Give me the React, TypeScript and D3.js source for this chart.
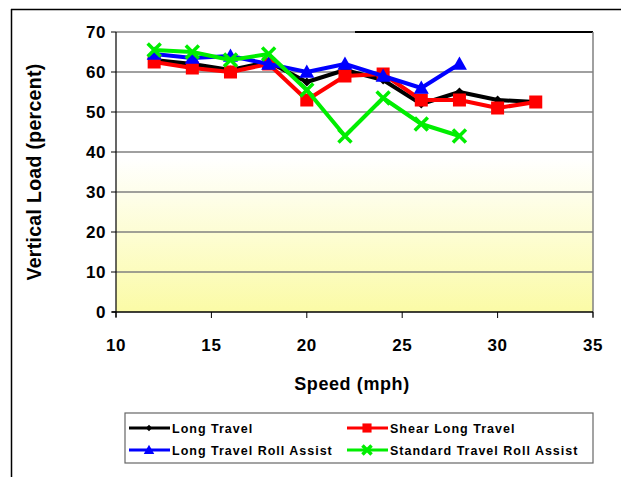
import React from "react";
import * as d3 from "d3";

const speeds = [12, 14, 16, 18, 20, 22, 24, 26, 28, 30, 32];
const longTravel = [63, 62, 60.5, 62.5, 57.5, 60.5, 58, 52, 55, 53, 52.5];
const shearLongTravel = [62.5, 61, 60, 62, 53, 59, 59.5, 53, 53, 51, 52.5];
const rollAssistSpeeds = [12, 14, 16, 18, 20, 22, 24, 26, 28];
const longTravelRollAssist = [64.5, 63.5, 64, 62, 60, 62, 59, 56, 62];
const standardTravelRollAssist = [65.5, 65, 63, 64.5, 55.5, 44, 53.5, 47, 44];
const xTicks = [10, 15, 20, 25, 30, 35];
const yTicks = [0, 10, 20, 30, 40, 50, 60, 70];

type Series = { name: string; color: string; marker: string; xs: number[]; ys: number[] };
const series: Series[] = [
  { name: "Long Travel", color: "#000000", marker: "diamond", xs: speeds, ys: longTravel },
  { name: "Shear Long Travel", color: "#ff0000", marker: "square", xs: speeds, ys: shearLongTravel },
  { name: "Long Travel Roll Assist", color: "#0000ff", marker: "triangle", xs: rollAssistSpeeds, ys: longTravelRollAssist },
  { name: "Standard Travel Roll Assist", color: "#00ee00", marker: "x", xs: rollAssistSpeeds, ys: standardTravelRollAssist },
];

const plot = { left: 116, right: 593, top: 32, bottom: 312 };
const x = d3.scaleLinear().domain([10, 35]).range([plot.left, plot.right]);
const y = d3.scaleLinear().domain([0, 70]).range([plot.bottom, plot.top]);
const font = "Arial, 'Liberation Sans', sans-serif";

function Marker({ kind, cx, cy, color, scale = 1 }: { kind: string; cx: number; cy: number; color: string; scale?: number }) {
  if (kind === "diamond") {
    const s = 4.5 * scale;
    return <path d={`M${cx},${cy - s}L${cx + s},${cy}L${cx},${cy + s}L${cx - s},${cy}Z`} fill={color} />;
  }
  if (kind === "square") {
    const s = 6.5 * scale;
    return <rect x={cx - s} y={cy - s} width={2 * s} height={2 * s} fill={color} />;
  }
  if (kind === "triangle") {
    const s = 7.5 * scale;
    return <path d={`M${cx},${cy - s}L${cx + s},${cy + s * 0.75}L${cx - s},${cy + s * 0.75}Z`} fill={color} />;
  }
  const s = 6.5 * scale;
  return (
    <path
      d={`M${cx - s},${cy - s}L${cx + s},${cy + s}M${cx + s},${cy - s}L${cx - s},${cy + s}`}
      stroke={color}
      strokeWidth={3.5}
      fill="none"
    />
  );
}

export default function App() {
  const line = d3
    .line<[number, number]>()
    .x((d) => x(d[0]))
    .y((d) => y(d[1]));

  return (
    <svg width={621} height={477} style={{ position: "absolute", left: 0, top: 0, background: "#fff" }}>
      <defs>
        <linearGradient id="plotFill" x1="0" y1="0" x2="0" y2="1">
          <stop offset="0" stopColor="#ffffff" />
          <stop offset="0.45" stopColor="#ffffff" />
          <stop offset="1" stopColor="#fbfba6" />
        </linearGradient>
      </defs>
      {/* outer frame */}
      <line x1={11.5} y1={9} x2={11.5} y2={477} stroke="#000" strokeWidth={1.5} />
      <line x1={11} y1={9.5} x2={621} y2={9.5} stroke="#000" strokeWidth={1.5} />

      <rect x={plot.left} y={plot.top} width={plot.right - plot.left} height={plot.bottom - plot.top} fill="url(#plotFill)" />

      {/* gridlines */}
      {yTicks.filter((t) => t > 0).map((t) => (
        <line key={t} x1={plot.left} x2={plot.right} y1={y(t)} y2={y(t)} stroke="#808080" strokeWidth={1.5} />
      ))}
      <line x1={355} x2={plot.right} y1={y(70)} y2={y(70)} stroke="#000" strokeWidth={2} />
      <line x1={plot.right} x2={plot.right} y1={plot.top} y2={plot.bottom + 5} stroke="#808080" strokeWidth={1.5} />

      {/* axes */}
      <line x1={plot.left} x2={plot.left} y1={plot.top} y2={plot.bottom + 5} stroke="#000" strokeWidth={1.2} />
      <line x1={plot.left - 4} x2={plot.right} y1={plot.bottom} y2={plot.bottom} stroke="#000" strokeWidth={1.5} />
      {yTicks.map((t) => (
        <g key={t}>
          <line x1={plot.left - 5} x2={plot.left} y1={y(t)} y2={y(t)} stroke="#000" />
          <text x={106} y={y(t) + 6} textAnchor="end" fontFamily={font} fontWeight="bold" fontSize={17} letterSpacing={0.6}>
            {t}
          </text>
        </g>
      ))}
      {xTicks.map((t) => (
        <g key={t}>
          <line x1={x(t)} x2={x(t)} y1={plot.bottom} y2={plot.bottom + 6} stroke="#000" />
          <text x={x(t)} y={351} textAnchor="middle" fontFamily={font} fontWeight="bold" fontSize={17} letterSpacing={0.6}>
            {t}
          </text>
        </g>
      ))}

      <text
        transform="translate(41,172) rotate(-90)"
        textAnchor="middle"
        fontFamily={font}
        fontWeight="bold"
        fontSize={19.5}
        letterSpacing={0.3}
      >
        Vertical Load (percent)
      </text>
      <text x={352} y={390} textAnchor="middle" fontFamily={font} fontWeight="bold" fontSize={18} letterSpacing={0.6}>
        Speed (mph)
      </text>

      {/* series */}
      {series.map((s) => {
        const pts = s.xs.map((v, i) => [v, s.ys[i]] as [number, number]);
        return (
          <g key={s.name}>
            <path d={line(pts) || ""} fill="none" stroke={s.color} strokeWidth={4} strokeLinejoin="round" />
            {pts.map((p, i) => (
              <Marker key={i} kind={s.marker} cx={x(p[0])} cy={y(p[1])} color={s.color} />
            ))}
          </g>
        );
      })}

      {/* legend */}
      <rect x={125} y={413} width={468} height={50} fill="#fff" stroke="#666" strokeWidth={1.2} />
      {series.map((s, i) => {
        const col = i % 2;
        const row = Math.floor(i / 2);
        const lx = col === 0 ? 129 : 347;
        const ly = row === 0 ? 428 : 450;
        return (
          <g key={s.name}>
            <line x1={lx} x2={lx + 41} y1={ly} y2={ly} stroke={s.color} strokeWidth={3} />
            <Marker kind={s.marker} cx={lx + 20} cy={ly} color={s.color} scale={0.7} />
            <text x={lx + 43} y={ly + 4.5} fontFamily={font} fontWeight="bold" fontSize={12.5} letterSpacing={1.0}>
              {s.name}
            </text>
          </g>
        );
      })}
    </svg>
  );
}
